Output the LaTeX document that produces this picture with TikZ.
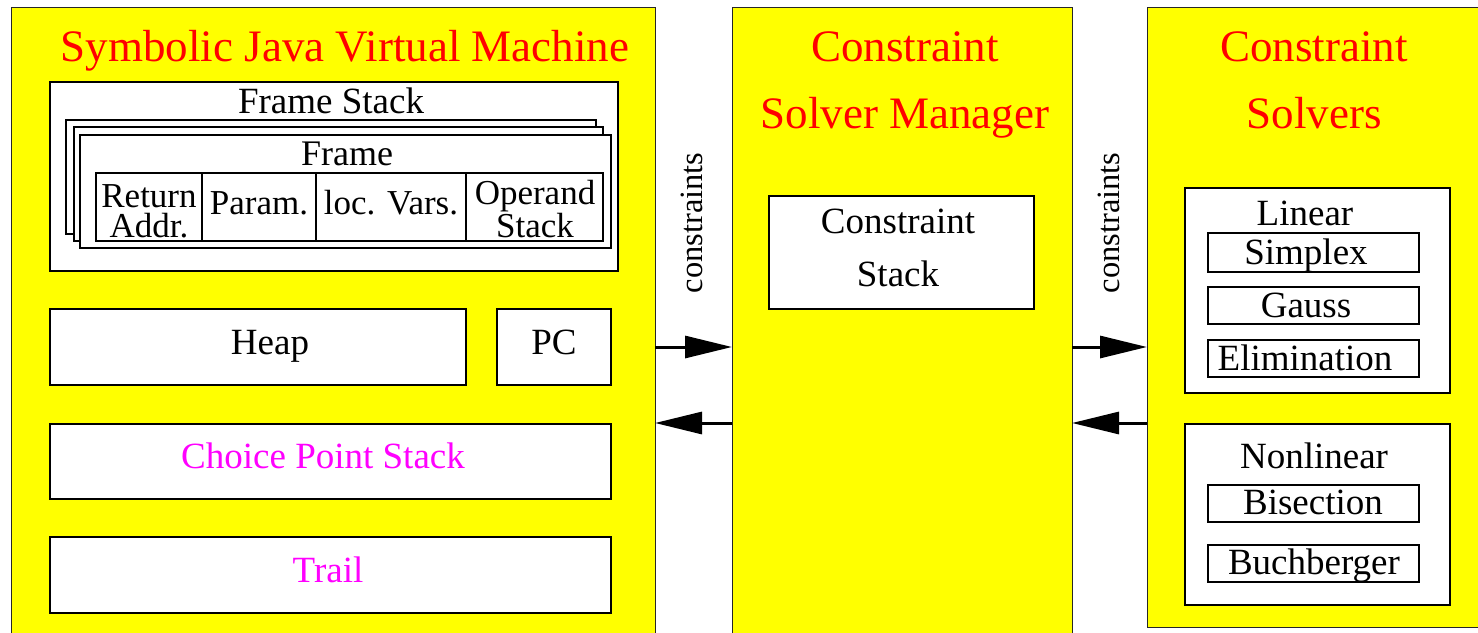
\documentclass[tikz,border=0pt]{standalone}
\usepackage{fontspec}
\setmainfont{Liberation Serif}
\usetikzlibrary{arrows.meta,fit}

\definecolor{panelyellow}{RGB}{255,255,0}
\definecolor{titlered}{RGB}{255,0,0}
\definecolor{stackpink}{RGB}{255,0,255}

\tikzset{
  panelbox/.style={draw=black!85, line width=1pt, fill=panelyellow, inner sep=0pt, outer sep=0pt},
  whitebox/.style={draw=black, line width=1.2pt, fill=white, inner sep=0pt, outer sep=0pt},
  ptitle/.style={text=titlered, font=\fontsize{45}{54}\selectfont, anchor=base, inner sep=0pt},
  lbl/.style={font=\fontsize{37}{44}\selectfont, anchor=base, inner sep=0pt},
  cell/.style={font=\fontsize{35}{30}\selectfont, anchor=base, inner sep=0pt},
  twoline/.style={cell, align=center},
  vlbl/.style={font=\fontsize{32.5}{38}\selectfont, anchor=base, rotate=90, inner sep=0pt},
  flow/.style={line width=3pt, -{Triangle[length=47pt,width=22pt]}},
}

\begin{document}
\begin{tikzpicture}[x=1pt,y=-1pt]
  \useasboundingbox (0,0) rectangle (1478,632);
  \clip (0,0) rectangle (1478,632);

  % three panels
  \node[panelbox, fit={(11,7) (655,645)}] (jvm) {};
  \node[panelbox, fit={(732,7) (1072,645)}] (csm) {};
  \node[panelbox, fit={(1147,7) (1495,627)}] (cs) {};

  % panel titles
  \node[ptitle] (jvmtitle) at (345,61) {Symbolic Java Virtual Machine};
  \node[ptitle] (csmtitle1) at (905,61) {Constraint};
  \node[ptitle] (csmtitle2) at (905,128) {Solver Manager};
  \node[ptitle] (cstitle1) at (1314,61) {Constraint};
  \node[ptitle] (cstitle2) at (1314,128) {Solvers};

  % frame stack with overlapping frames
  \node[whitebox, fit={(50,82) (618,271)}] (fstack) {};
  \node[lbl] (fstacklbl) at (331,113) {Frame Stack};
  \node[whitebox, fit={(66,120) (596,234)}] (frameC) {};
  \node[whitebox, fit={(74,127) (603,241)}] (frameB) {};
  \node[whitebox, fit={(80,135) (611,248)}] (frameA) {};
  \node[cell, font=\fontsize{36}{40}\selectfont] (framelbl) at (347,165) {Frame};

  % frame contents (the base of a two-line label is its last line)
  \node[whitebox, fit={(96,173) (603,241)}] (ftable) {};
  \draw[line width=1.2pt] (202,173) -- (202,241);
  \draw[line width=1.2pt] (316,173) -- (316,241);
  \draw[line width=1.2pt] (466,173) -- (466,241);
  \node[twoline] (retaddr) at (149,237) {Return\\Addr.};
  \node[cell] (param) at (259,214) {Param.};
  \node[cell] (locvars) at (391,214) {loc. Vars.};
  \node[twoline] (opstack) at (535,237) {Operand\\Stack};

  % heap, program counter, choice points, trail
  \node[whitebox, fit={(50,309) (466,385)}] (heap) {};
  \node[lbl] (heaplbl) at (270,354) {Heap};
  \node[whitebox, fit={(497,309) (611,385)}] (pc) {};
  \node[lbl] (pclbl) at (554,354) {PC};
  \node[whitebox, fit={(50,424) (611,499)}] (cps) {};
  \node[lbl, text=stackpink] (cpslbl) at (323,468) {Choice Point Stack};
  \node[whitebox, fit={(50,537) (611,613)}] (trail) {};
  \node[lbl, text=stackpink] (traillbl) at (328,582) {Trail};

  % constraint stack
  \node[whitebox, fit={(769,196) (1034,309)}] (cstack) {};
  \node[lbl] (cstack1) at (898,233) {Constraint};
  \node[lbl] (cstack2) at (898,286) {Stack};

  % solvers
  \node[whitebox, fit={(1185,188) (1450,393)}] (linear) {};
  \node[lbl] (linearlbl) at (1305,225) {Linear};
  \node[whitebox, fit={(1208,233) (1419,272)}] (simplex) {};
  \node[lbl] (simplexlbl) at (1306,264) {Simplex};
  \node[whitebox, fit={(1208,287) (1419,324)}] (gauss) {};
  \node[lbl] (gausslbl) at (1306,317) {Gauss};
  \node[whitebox, fit={(1208,340) (1419,377)}] (elim) {};
  \node[lbl] (elimlbl) at (1305,370) {Elimination};
  \node[whitebox, fit={(1185,424) (1450,605)}] (nonlinear) {};
  \node[lbl] (nonlinearlbl) at (1314,468) {Nonlinear};
  \node[whitebox, fit={(1208,485) (1419,522)}] (bisect) {};
  \node[lbl] (bisectlbl) at (1313,514) {Bisection};
  \node[whitebox, fit={(1208,545) (1419,582)}] (buchb) {};
  \node[lbl] (buchblbl) at (1314,574) {Buchberger};

  % constraint flow between panels
  \node[vlbl] (c1) at (702,223) {constraints};
  \node[vlbl] (c2) at (1119,223) {constraints};
  \draw[flow] ([yshift=-21pt]jvm.east) -- ([yshift=-21pt]jvm.east -| csm.west);
  \draw[flow] ([yshift=-97pt]csm.west) -- ([yshift=-97pt]csm.west -| jvm.east);
  \draw[flow] ([yshift=-21pt]csm.east) -- ([yshift=-21pt]csm.east -| cs.west);
  \draw[flow] ([yshift=-97pt]csm.east -| cs.west) -- ([yshift=-97pt]csm.east);
\end{tikzpicture}
\end{document}
